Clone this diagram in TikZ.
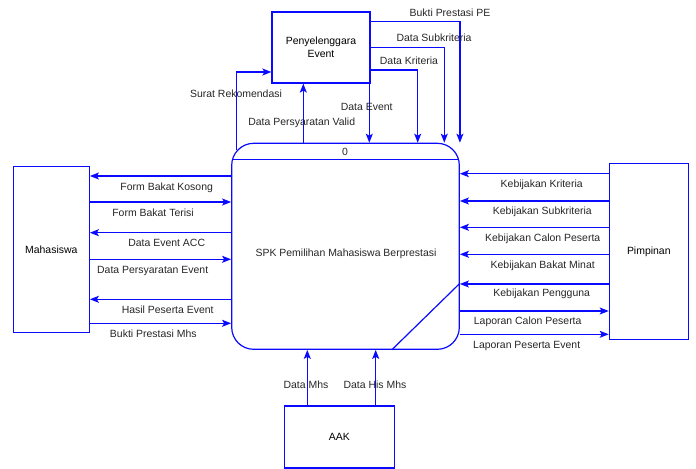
\documentclass[tikz,border=0pt]{standalone}
\usepackage{fontspec}
\setmainfont{Liberation Sans}
\usetikzlibrary{arrows.meta}
\definecolor{dfdblue}{RGB}{10,10,255}

\begin{document}
\begin{tikzpicture}[x=1bp, y=-1bp,
  flow/.style={draw=dfdblue, line width=1.2bp, -{Stealth[length=9bp, width=7bp, inset=2bp]}},
  entity/.style={draw=dfdblue, line width=1.2bp, inner sep=0pt, align=center, font=\fontsize{10.5}{13}\selectfont},
  lbl/.style={font=\fontsize{10.5}{12}\selectfont, text=black!85, inner sep=1bp}]
  \useasboundingbox (0,0) rectangle (696,469);

  % Proses utama
  \node[entity, rounded corners=22bp, minimum width=227.6bp, minimum height=206bp] (proc) at (345.5,246.3) {};
  \draw[dfdblue, line width=1.2bp] ([xshift=1.1bp]proc.west |- 0,159.3) -- ([xshift=-1.1bp]proc.east |- 0,159.3);
  \node[lbl] (pnum) at (345,151.7) {0};
  \node[lbl] (pname) at (346,254) {SPK Pemilihan Mahasiswa Berprestasi};

  % Entitas luar
  \node[entity, minimum width=98bp, minimum height=71bp] (pe) at (321,47.5) {Penyelenggara\\Event};
  \node[entity, minimum width=76bp, minimum height=166bp] (mhs) at (51.3,249.7) {Mahasiswa};
  \node[entity, minimum width=79bp, minimum height=176bp] (pim) at (648.8,251.3) {Pimpinan};
  \node[entity, minimum width=110bp, minimum height=62bp] (aak) at (339.3,437) {AAK};

  % Aliran dengan Penyelenggara Event
  \draw[flow] (pe.east |- 0,21.7) -| (proc.north east);
  \draw[flow] (pe.east |- 0,47.3) -| (proc.north -| 444.3,0);
  \draw[flow] (pe.east |- 0,70) -| (proc.north -| 417.7,0);
  \draw[flow] (pe.south -| 369.3,0) -- (proc.north -| 369.3,0);
  \draw[flow] (proc.north -| 303.3,0) -- (pe.south -| 303.3,0);
  \draw[flow] ([shift={(5.6,7)}]proc.north west) |- (pe.west |- 0,72);

  \node[lbl] (t1) at (450,12.7) {Bukti Prestasi PE};
  \node[lbl] (t2) at (434,38) {Data Subkriteria};
  \node[lbl] (t3) at (409,60.7) {Data Kriteria};
  \node[lbl] (t4) at (366.7,106.7) {Data Event};
  \node[lbl] (t5) at (301.7,122.3) {Data Persyaratan Valid};
  \node[lbl] (t6) at (236,93.3) {Surat Rekomendasi};

  % Aliran dengan Mahasiswa
  \draw[flow] (proc.west |- 0,176) -- (mhs.east |- 0,176);
  \draw[flow] (mhs.east |- 0,202) -- (proc.west |- 0,202);
  \draw[flow] (proc.west |- 0,232.7) -- (mhs.east |- 0,232.7);
  \draw[flow] (mhs.east |- 0,259.3) -- (proc.west |- 0,259.3);
  \draw[flow] (proc.west |- 0,299.3) -- (mhs.east |- 0,299.3);
  \draw[flow] (mhs.east |- 0,323.3) -- (proc.west |- 0,323.3);

  \node[lbl] (m1) at (166.7,187.3) {Form Bakat Kosong};
  \node[lbl] (m2) at (153,212.7) {Form Bakat Terisi};
  \node[lbl] (m3) at (166.7,243.3) {Data Event ACC};
  \node[lbl] (m4) at (152.7,271) {Data Persyaratan Event};
  \node[lbl] (m5) at (167.7,310) {Hasil Peserta Event};
  \node[lbl] (m6) at (153.3,334) {Bukti Prestasi Mhs};

  % Aliran dengan Pimpinan
  \foreach \yy in {173.7, 201, 227.3, 254.3, 284}
    \draw[flow] (pim.west |- 0,\yy) -- (proc.east |- 0,\yy);
  \foreach \yy in {311, 334.3}
    \draw[flow] (proc.east |- 0,\yy) -- (pim.west |- 0,\yy);
  \draw[dfdblue, line width=1.2bp] (proc.south -| 391.7,0) -- (proc.east |- 0,283.3);

  \node[lbl] (k1) at (541.7,185) {Kebijakan Kriteria};
  \node[lbl] (k2) at (542.3,211.7) {Kebijakan Subkriteria};
  \node[lbl] (k3) at (542.7,238.3) {Kebijakan Calon Peserta};
  \node[lbl] (k4) at (542.7,265.3) {Kebijakan Bakat Minat};
  \node[lbl] (k5) at (541.7,294) {Kebijakan Pengguna};
  \node[lbl] (k6) at (527.7,321.7) {Laporan Calon Peserta};
  \node[lbl] (k7) at (526.7,346) {Laporan Peserta Event};

  % Aliran dengan AAK
  \draw[flow] (aak.north -| 307.3,0) -- (proc.south -| 307.3,0);
  \draw[flow] (aak.north -| 375.7,0) -- (proc.south -| 375.7,0);

  \node[lbl] (a1) at (306,385) {Data Mhs};
  \node[lbl] (a2) at (375,385) {Data His Mhs};
\end{tikzpicture}
\end{document}
